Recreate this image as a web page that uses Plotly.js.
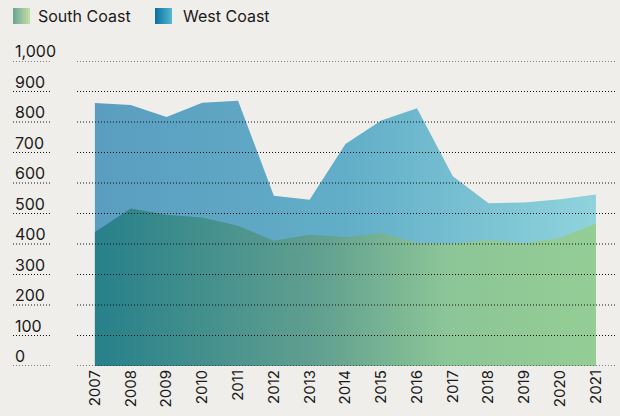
<!DOCTYPE html>
<html>
<head>
<meta charset="utf-8">
<script src="https://cdn.plot.ly/plotly-3.0.1.min.js"></script>
<style>html,body{margin:0;padding:0;background:#f0eeea;}#chart{width:620px;height:416px;}</style>
</head>
<body>
<div id="chart"></div>
<script>
const years = [2007,2008,2009,2010,2011,2012,2013,2014,2015,2016,2017,2018,2019,2020,2021];
const westCoast = [862,856,816,863,870,558,545,728,805,845,622,534,536,547,562];
const southCoast = [439,516,496,487,460,411,430,423,436,405,402,413,403,420,467];
const yTicks = [0,100,200,300,400,500,600,700,800,900,1000];
const yTickLabels = ['0','100','200','300','400','500','600','700','800','900','1,000'];
const seriesNames = ['South Coast', 'West Coast'];

const FONT = 'Inter, "Liberation Sans", Arial, sans-serif';
const W = 620, H = 416, ML = 77, MR = 4, MT = 61, MB = 50;
const PW = W - ML - MR, PH = H - MT - MB;
const px = x => (x - ML) / PW;          // pixel -> paper x
const py = y => (H - MB - y) / PH;       // pixel -> paper y
const labX0 = px(13), labX1 = px(52);
const DOT = '1px,2px';
const GRID = '#111';

function gradSvg(c1, c2) {
  const svg = `<svg xmlns="http://www.w3.org/2000/svg" width="17" height="16"><defs><linearGradient id="g" x1="0" y1="0" x2="1" y2="0"><stop offset="0" stop-color="${c1}"/><stop offset="1" stop-color="${c2}"/></linearGradient></defs><rect width="17" height="16" fill="url(#g)"/></svg>`;
  return 'data:image/svg+xml;base64,' + btoa(svg);
}

const traces = [
  {
    x: years, y: westCoast, name: seriesNames[1], type: 'scatter', mode: 'lines',
    line: {width: 0}, fill: 'tozeroy', showlegend: false,
    fillgradient: {type: 'horizontal', colorscale: [[0, '#5a9dc0'], [0.5, '#62aec8'], [1, '#8fd3dc']]}
  },
  {
    x: years, y: southCoast, name: seriesNames[0], type: 'scatter', mode: 'lines',
    line: {width: 0}, fill: 'tozeroy', showlegend: false,
    fillgradient: {type: 'horizontal', colorscale: [[0, '#27808a'], [0.45, '#62a090'], [0.7, '#8cc597'], [1, '#95cd95']]}
  }
];

const annotations = yTicks.map((v, i) => ({
  xref: 'paper', yref: 'y', x: labX0, y: v, xanchor: 'left', yanchor: 'bottom',
  text: yTickLabels[i], showarrow: false, yshift: -2,
  font: {family: FONT, size: 16, color: '#1a1a1a'}
}));
annotations.push(
  {xref: 'paper', yref: 'paper', x: px(36), y: py(16), xanchor: 'left', yanchor: 'middle',
   text: seriesNames[0], showarrow: false, font: {family: FONT, size: 16, color: '#1a1a1a'}},
  {xref: 'paper', yref: 'paper', x: px(181), y: py(16), xanchor: 'left', yanchor: 'middle',
   text: seriesNames[1], showarrow: false, font: {family: FONT, size: 16, color: '#1a1a1a'}}
);

const shapes = [];
yTicks.forEach(v => {
  shapes.push({type: 'line', xref: 'paper', yref: 'y', x0: labX0, x1: labX1, y0: v, y1: v,
    line: {color: GRID, width: 1, dash: DOT}});
  shapes.push({type: 'line', xref: 'paper', yref: 'y', x0: 0, x1: 1, y0: v, y1: v,
    layer: 'above', line: {color: GRID, width: 1, dash: DOT}});
});

const images = [
  {source: gradSvg('#6aa39a', '#c6e1a0'), xref: 'paper', yref: 'paper', x: px(13), y: py(8),
   sizex: 17 / PW, sizey: 16 / PH, xanchor: 'left', yanchor: 'top', sizing: 'stretch', layer: 'above'},
  {source: gradSvg('#0a6fa0', '#52bad0'), xref: 'paper', yref: 'paper', x: px(155), y: py(8),
   sizex: 17 / PW, sizey: 16 / PH, xanchor: 'left', yanchor: 'top', sizing: 'stretch', layer: 'above'}
];

const layout = {
  width: W, height: H,
  paper_bgcolor: '#f0eeea', plot_bgcolor: '#f0eeea',
  margin: {l: ML, r: MR, t: MT, b: MB},
  font: {family: FONT, color: '#1a1a1a'},
  showlegend: false,
  xaxis: {
    range: [2006.5, 2021.56], tickvals: years, ticktext: years.map(String),
    tickangle: -90, showgrid: false, zeroline: false, showline: false, ticks: '',
    tickfont: {family: FONT, size: 15, color: '#1a1a1a'}
  },
  yaxis: {
    range: [0, 1000], showticklabels: false, showgrid: false,
    zeroline: false, showline: false, ticks: ''
  },
  annotations: annotations,
  shapes: shapes,
  images: images
};

Plotly.newPlot('chart', traces, layout, {displayModeBar: false, staticPlot: true});
</script>
</body>
</html>
